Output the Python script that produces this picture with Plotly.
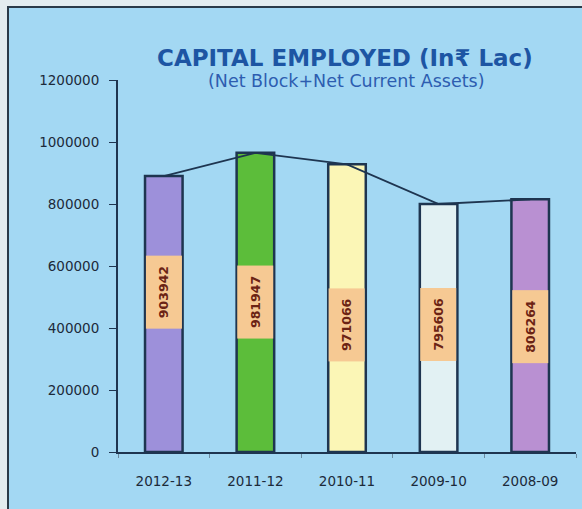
import plotly.graph_objects as go

# ---- data ----
years = ["2012-13", "2011-12", "2010-11", "2009-10", "2008-09"]
capital_employed = [890000, 965000, 928000, 800000, 815000]   # bar heights
value_labels = ["903942", "981947", "971066", "795606", "806264"]  # printed labels
y_ticks = [0, 200000, 400000, 600000, 800000, 1000000, 1200000]

# ---- styling ----
bar_colors = ["#9d90da", "#5cbd3a", "#fbf6b6", "#e2f1f3", "#b990d2"]
label_y = [515000, 485000, 410000, 410000, 405000]
W, H = 582, 509
ML, MR, MT, MB = 118, 6, 80, 57
bg_blue = "#a3d8f3"
navy = "#1e3550"
FONT = "DejaVu Sans"

fig = go.Figure()
fig.add_trace(go.Bar(
    x=years, y=capital_employed,
    marker=dict(color=bar_colors, line=dict(color=navy, width=2.5)),
    width=0.41, hoverinfo="skip", showlegend=False,
))
fig.add_trace(go.Scatter(
    x=years, y=capital_employed, mode="lines",
    line=dict(color=navy, width=1.8), hoverinfo="skip", showlegend=False,
))

for yr, lab, ly in zip(years, value_labels, label_y):
    fig.add_annotation(
        x=yr, y=ly, text="<b>" + lab + "</b>", textangle=-90, showarrow=False,
        font=dict(family=FONT, size=12.5, color="#6b2314"),
        bgcolor="#f6c993", borderpad=10,
    )

pw = W - ML - MR
ph = H - MT - MB
def px_x(p):
    return (p - ML) / pw
def px_y(p):
    return (H - MB - p) / ph

# frame / panel background
fig.add_shape(type="rect", xref="paper", yref="paper",
              x0=px_x(8), x1=px_x(W + 10), y0=px_y(H + 10), y1=px_y(7),
              fillcolor=bg_blue, line=dict(color="#2a3a48", width=2), layer="below")

fig.add_annotation(xref="paper", yref="paper", x=px_x(345), y=px_y(43),
                   text="<b>CAPITAL EMPLOYED (In₹ Lac)</b>", showarrow=False,
                   font=dict(family=FONT, size=23, color="#1d55a3"))
fig.add_annotation(xref="paper", yref="paper", x=px_x(346), y=px_y(69),
                   text="(Net Block+Net Current Assets)", showarrow=False,
                   font=dict(family=FONT, size=17.5, color="#2d5db0"))

fig.update_layout(
    width=W, height=H,
    margin=dict(l=ML, r=MR, t=MT, b=MB),
    paper_bgcolor="#e3ecef", plot_bgcolor=bg_blue,
    xaxis=dict(
        type="category", range=[-0.5, 4.5], showgrid=False, zeroline=False,
        showline=True, linecolor=navy, linewidth=2,
        ticks="outside", ticklen=4, tickcolor="#6b8aa0", tickson="boundaries",
        ticklabelstandoff=16,
        tickfont=dict(family=FONT, size=13.5, color="#1c2a3a"),
        fixedrange=True,
    ),
    yaxis=dict(
        range=[0, 1200000], tickvals=y_ticks, ticktext=[str(v) for v in y_ticks],
        showgrid=False, zeroline=False, showline=True, linecolor=navy, linewidth=2,
        ticks="outside", ticklen=7, tickcolor=navy, ticklabelstandoff=7,
        tickfont=dict(family=FONT, size=13.5, color="#1c2a3a"),
        fixedrange=True,
    ),
)

fig.write_html("out.html")
